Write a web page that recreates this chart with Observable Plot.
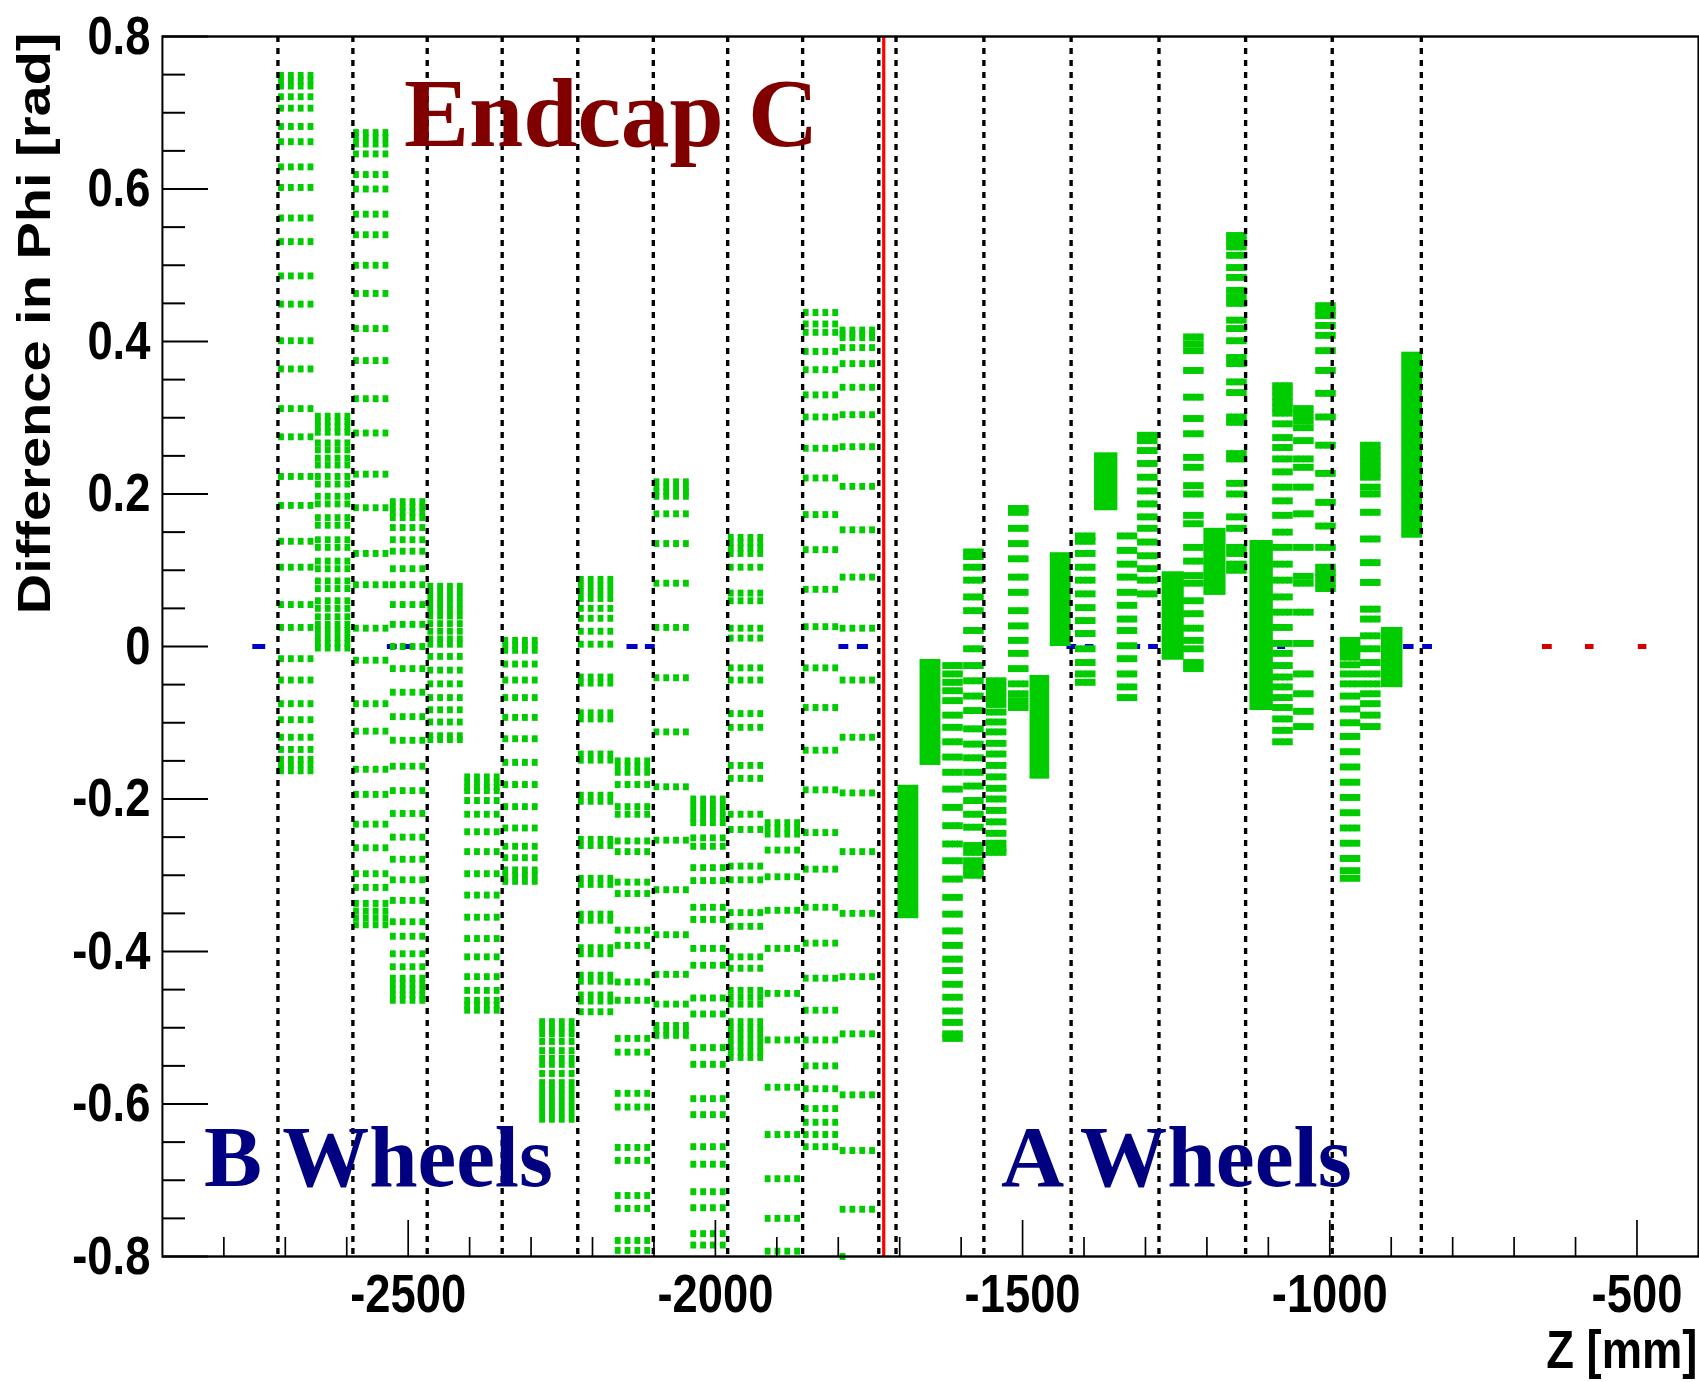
<!DOCTYPE html>
<html>
<head>
<meta charset="utf-8">
<script src="https://cdn.jsdelivr.net/npm/d3@7"></script>
<script src="https://cdn.jsdelivr.net/npm/@observablehq/plot@0.6"></script>
<style>
html, body { margin: 0; padding: 0; background: #fff; }
#wrap { position: relative; width: 1699px; height: 1382px; overflow: hidden; background: #fff; }
#wrap svg.overlay { position: absolute; left: 0; top: 0; pointer-events: none; }
</style>
</head>
<body>
<div id="wrap"></div>
<script>
// ---------------- data ----------------
const zDomain = [-2900, -400];
const phiDomain = [-0.8, 0.8];
const xMajorTicks = [-2500, -2000, -1500, -1000, -500];
const xMinorTicks = [-2800, -2700, -2600, -2400, -2300, -2200, -2100, -1900, -1800, -1700, -1600, -1400, -1300, -1200, -1100, -900, -800, -700, -600];
const yMajorTicks = [-0.8, -0.6, -0.4, -0.2, 0, 0.2, 0.4, 0.6, 0.8];
const yMinorTicks = [-0.75, -0.7, -0.65, -0.55, -0.5, -0.45, -0.35, -0.3, -0.25, -0.15, -0.1, -0.05, 0.05, 0.1, 0.15, 0.25, 0.3, 0.35, 0.45, 0.5, 0.55, 0.65, 0.7, 0.75];

const wheelBoundaries = [-2712, -2590, -2469, -2347, -2224, -2101, -1980, -1858, -1734, -1706, -1563, -1421, -1278, -1137, -996, -851];
const endcapBoundaryZ = [-1726];

const blueSegZ1 = [-2753, -2534, -2505, -2144, -2114, -1799, -1769, -1428, -1398, -1324, -1295, -1116, -1085, -880, -849];
const blueSegZ2 = [-2732, -2518, -2488, -2126, -2098, -1783, -1751, -1412, -1384, -1308, -1279, -1101, -1072, -863, -833];
const redSegZ1 = [-654, -584, -498];
const redSegZ2 = [-638, -570, -484];

// B wheels: 16 clusters, 4 straw columns each
const bColumnOffsets = [0, 16, 32, 48];
const bClusterZ = [-2707, -2647, -2585, -2525, -2464, -2404, -2342, -2282, -2219, -2159, -2096, -2036, -1975, -1915, -1853, -1793];
const rowsB01 = [0.749, 0.742, 0.735, 0.721, 0.706, 0.682, 0.662, 0.629, 0.602, 0.562, 0.531, 0.486, 0.449, 0.401, 0.364, 0.312, 0.275, 0.223, 0.185, 0.138, 0.104, 0.055, 0.025, -0.016, -0.044, -0.075, -0.096, -0.119, -0.135, -0.148, -0.155, -0.163];
const rowsB02 = [0.302, 0.295, 0.288, 0.281, 0.267, 0.258, 0.247, 0.238, 0.223, 0.213, 0.197, 0.187, 0.169, 0.159, 0.140, 0.130, 0.112, 0.102, 0.086, 0.076, 0.060, 0.050, 0.039, 0.029, 0.021, 0.012, 0.004, -0.002];
const rowsB03 = [0.674, 0.667, 0.659, 0.646, 0.619, 0.600, 0.567, 0.540, 0.500, 0.463, 0.417, 0.375, 0.325, 0.280, 0.226, 0.182, 0.122, 0.081, 0.024, -0.018, -0.075, -0.111, -0.161, -0.194, -0.233, -0.264, -0.298, -0.316, -0.337, -0.347, -0.356, -0.365];
const rowsB04 = [0.190, 0.183, 0.176, 0.169, 0.156, 0.140, 0.125, 0.102, 0.081, 0.055, 0.029, 0.000, -0.029, -0.060, -0.092, -0.123, -0.157, -0.189, -0.219, -0.250, -0.279, -0.306, -0.333, -0.361, -0.380, -0.403, -0.420, -0.435, -0.442, -0.450, -0.457, -0.464];
const rowsB05 = [0.079, 0.072, 0.064, 0.056, 0.048, 0.040, 0.030, 0.020, 0.010, 0.003, -0.013, -0.031, -0.049, -0.067, -0.083, -0.099, -0.117, -0.122];
const rowsB06 = [-0.171, -0.178, -0.185, -0.189, -0.202, -0.220, -0.243, -0.269, -0.298, -0.326, -0.355, -0.383, -0.407, -0.433, -0.451, -0.464, -0.471, -0.477];
const rowsB07 = [0.008, 0.002, -0.005, -0.023, -0.044, -0.067, -0.093, -0.121, -0.152, -0.181, -0.210, -0.238, -0.262, -0.277, -0.293, -0.300, -0.308];
const rowsB08 = [-0.492, -0.500, -0.508, -0.518, -0.530, -0.540, -0.548, -0.560, -0.572, -0.580, -0.588, -0.596, -0.604, -0.612, -0.620];
const rowsB09 = [0.088, 0.080, 0.072, 0.063, 0.050, 0.037, 0.020, 0.003, -0.040, -0.048, -0.087, -0.095, -0.141, -0.149, -0.195, -0.203, -0.253, -0.261, -0.304, -0.312, -0.351, -0.359, -0.395, -0.403, -0.431, -0.439, -0.457, -0.465, -0.479];
const rowsB10 = [-0.150, -0.157, -0.165, -0.181, -0.210, -0.220, -0.255, -0.269, -0.309, -0.324, -0.372, -0.392, -0.440, -0.464, -0.514, -0.532, -0.586, -0.604, -0.657, -0.674, -0.720, -0.737, -0.779, -0.792];
const rowsB11 = [0.216, 0.209, 0.203, 0.197, 0.174, 0.135, 0.083, 0.025, -0.041, -0.112, -0.184, -0.254, -0.319, -0.378, -0.430, -0.469, -0.497, -0.504, -0.510];
const rowsB12 = [-0.200, -0.208, -0.216, -0.224, -0.231, -0.251, -0.262, -0.290, -0.307, -0.342, -0.358, -0.396, -0.418, -0.461, -0.482, -0.526, -0.548, -0.593, -0.614, -0.656, -0.679, -0.715, -0.736, -0.770, -0.785];
const rowsB13 = [0.143, 0.136, 0.129, 0.122, 0.104, 0.070, 0.060, 0.024, 0.011, -0.028, -0.044, -0.088, -0.106, -0.156, -0.173, -0.220, -0.240, -0.288, -0.306, -0.349, -0.367, -0.407, -0.422, -0.451, -0.460, -0.469, -0.492, -0.500, -0.508, -0.516, -0.524, -0.532, -0.539];
const rowsB14 = [-0.231, -0.238, -0.246, -0.267, -0.302, -0.346, -0.396, -0.455, -0.516, -0.578, -0.640, -0.698, -0.750, -0.793];
const rowsB15 = [0.438, 0.423, 0.412, 0.387, 0.363, 0.330, 0.301, 0.260, 0.221, 0.173, 0.127, 0.075, 0.026, -0.028, -0.080, -0.136, -0.188, -0.244, -0.292, -0.342, -0.389, -0.435, -0.477, -0.516, -0.550, -0.580, -0.606, -0.624, -0.640, -0.656];
const rowsB16 = [0.415, 0.410, 0.405, 0.392, 0.371, 0.340, 0.304, 0.262, 0.210, 0.153, 0.091, 0.024, -0.044, -0.119, -0.192, -0.269, -0.350, -0.433, -0.508, -0.588, -0.661, -0.738];
const bClusterRows = [rowsB01, rowsB02, rowsB03, rowsB04, rowsB05, rowsB06, rowsB07, rowsB08, rowsB09, rowsB10, rowsB11, rowsB12, rowsB13, rowsB14, rowsB15, rowsB16];

// A wheels: clusters drawn as rows of 4 close straw columns
const aColumnOffsets = [0, 8, 16, 24];
const aClusterZ = [-1626, -1592, -1555, -1519, -1410, -1342, -1309, -1234, -1164, -1089, -1055, -1019, -979, -946];
const rowsA1c = [-0.025, -0.036, -0.047, -0.058, -0.071, -0.090, -0.106, -0.125, -0.145, -0.165, -0.187, -0.211, -0.235, -0.259, -0.281, -0.305, -0.329, -0.351, -0.373, -0.392, -0.410, -0.425, -0.443, -0.460, -0.478, -0.493, -0.508, -0.514];
const rowsA1d = [0.124, 0.118, 0.104, 0.087, 0.065, 0.047, 0.021, -0.003, -0.025, -0.045, -0.065, -0.084, -0.108, -0.128, -0.146, -0.165, -0.183, -0.202, -0.220, -0.237, -0.261, -0.270, -0.281, -0.288, -0.294, -0.300];
const rowsA2a = [-0.045, -0.052, -0.060, -0.068, -0.076, -0.086, -0.099, -0.112, -0.127, -0.141, -0.156, -0.171, -0.186, -0.200, -0.215, -0.230, -0.245, -0.258, -0.265, -0.270];
const rowsA2b = [0.181, 0.176, 0.155, 0.135, 0.115, 0.091, 0.071, 0.047, 0.027, 0.008, -0.009, -0.029, -0.049, -0.062, -0.071, -0.080];
const rowsA3a = [0.145, 0.138, 0.122, 0.104, 0.087, 0.069, 0.051, 0.034, 0.017, -0.003, -0.021, -0.036, -0.047];
const rowsA3c = [0.145, 0.126, 0.108, 0.091, 0.071, 0.054, 0.036, 0.021, 0.001, -0.016, -0.036, -0.053, -0.067];
const rowsA3d = [0.277, 0.270, 0.257, 0.240, 0.222, 0.204, 0.187, 0.170, 0.155, 0.137, 0.119, 0.102, 0.087, 0.069];
const rowsA4b = [0.406, 0.397, 0.388, 0.362, 0.327, 0.299, 0.279, 0.248, 0.235, 0.211, 0.200, 0.172, 0.161, 0.130, 0.112, 0.093, 0.083, 0.060, 0.043, 0.024, 0.008, -0.003, -0.021, -0.029];
const rowsA4d = [0.539, 0.532, 0.524, 0.513, 0.497, 0.484, 0.467, 0.458, 0.450, 0.428, 0.417, 0.401, 0.379, 0.371, 0.347, 0.333, 0.301, 0.294, 0.253, 0.246, 0.214, 0.200, 0.170, 0.155, 0.130, 0.122, 0.108, 0.100];
const rowsA5b = [0.342, 0.335, 0.328, 0.320, 0.313, 0.306, 0.292, 0.274, 0.261, 0.246, 0.229, 0.209, 0.191, 0.172, 0.150, 0.130, 0.108, 0.087, 0.065, 0.045, 0.025, 0.004, -0.009, -0.025, -0.040, -0.053, -0.067, -0.080, -0.095, -0.110, -0.125];
const rowsA5c = [0.312, 0.304, 0.296, 0.287, 0.270, 0.246, 0.235, 0.209, 0.174, 0.130, 0.092, 0.083, 0.045, 0.004, -0.036, -0.062, -0.085, -0.105];
const rowsA5d = [0.447, 0.440, 0.434, 0.421, 0.408, 0.388, 0.362, 0.332, 0.301, 0.264, 0.227, 0.189, 0.158, 0.130, 0.104, 0.097, 0.090, 0.083, 0.076];
const rowsA6a = [0.008, 0.002, -0.006, -0.014, -0.024, -0.036, -0.049, -0.065, -0.082, -0.100, -0.118, -0.138, -0.158, -0.178, -0.198, -0.218, -0.238, -0.258, -0.278, -0.294, -0.304];
const rowsA6b = [0.264, 0.257, 0.250, 0.243, 0.236, 0.229, 0.222, 0.209, 0.200, 0.176, 0.141, 0.110, 0.084, 0.049, 0.036, 0.014, -0.003, -0.021, -0.036, -0.049, -0.062, -0.075, -0.090, -0.105];
const aClusterRows = [rowsA1c, rowsA1d, rowsA2a, rowsA2b, rowsA3a, rowsA3c, rowsA3d, rowsA4b, rowsA4d, rowsA5b, rowsA5c, rowsA5d, rowsA6a, rowsA6b];

// saturated A clusters (hits so dense they form solid blocks)
const blockZ1 = [-1703, -1667, -1488, -1455, -1383, -1273, -1205, -1130, -916, -883];
const blockZ2 = [-1669, -1633, -1456, -1421, -1345, -1237, -1169, -1092, -881, -849];
const blockLo = [-0.357, -0.156, -0.174, 0.000, 0.178, -0.018, 0.067, -0.084, -0.054, 0.142];
const blockHi = [-0.182, -0.017, -0.038, 0.123, 0.254, 0.098, 0.155, 0.139, 0.025, 0.386];

const strayZ = [-1793];
const strayPhi = [-0.800];

// ---------------- build tables ----------------
const points = [];
bClusterZ.forEach((z0, i) => bClusterRows[i].forEach(phi => bColumnOffsets.forEach(dz => points.push({z: z0 + dz, phi}))));
aClusterZ.forEach((z0, i) => aClusterRows[i].forEach(phi => aColumnOffsets.forEach(dz => points.push({z: z0 + dz, phi}))));
strayZ.forEach((z, i) => points.push({z, phi: strayPhi[i]}));
const blocks = blockZ1.map((z1, i) => ({z1, z2: blockZ2[i], lo: blockLo[i], hi: blockHi[i]}));
const blueSegments = blueSegZ1.map((z1, i) => ({z1, z2: blueSegZ2[i]}));
const redSegments = redSegZ1.map((z1, i) => ({z1, z2: redSegZ2[i]}));

// ---------------- layout ----------------
const OUT_W = 1699, OUT_H = 1382;
const W = 2023;                 // drawing width, squeezed horizontally to OUT_W
const K = OUT_W / W;
const px = v => v / K;
const mL = px(162), mR = px(1), mT = 36, mB = 126;
const plotW = W - mL - mR, plotH = OUT_H - mT - mB;
const GREEN = "#00cc00";
const SANS = "'Liberation Sans', Arial, Helvetica, sans-serif";

const chart = Plot.plot({
  width: W, height: OUT_H,
  marginTop: mT, marginBottom: mB, marginLeft: mL, marginRight: mR,
  x: {domain: zDomain, label: null},
  y: {domain: phiDomain, label: null},
  style: {fontFamily: SANS, fontWeight: "bold", fontSize: "54px", color: "#000", background: "#fff", overflow: "visible"},
  marks: [
    Plot.ruleY(blueSegments, {y: () => 0, x1: "z1", x2: "z2", stroke: "#0000c8", strokeWidth: 5}),
    Plot.ruleY(redSegments, {y: () => 0, x1: "z1", x2: "z2", stroke: "#d40000", strokeWidth: 5}),
    Plot.rect(blocks, {x1: "z1", x2: "z2", y1: "lo", y2: "hi", fill: GREEN}),
    Plot.dot(points, {x: "z", y: "phi", symbol: "square", r: 3.9, fill: GREEN}),
    Plot.ruleX(wheelBoundaries, {stroke: "#000", strokeWidth: 4, strokeDasharray: "6,6"}),
    Plot.ruleX(endcapBoundaryZ, {stroke: "#ff0000", strokeWidth: 3.8}),
    Plot.tickY(yMinorTicks, {y: d => d, stroke: "#000", strokeWidth: 2, insetRight: plotW - px(23)}),
    Plot.tickY(yMajorTicks, {y: d => d, stroke: "#000", strokeWidth: 2, insetRight: plotW - px(46)}),
    Plot.tickX(xMinorTicks, {x: d => d, stroke: "#000", strokeWidth: 2, insetTop: plotH - 19}),
    Plot.tickX(xMajorTicks, {x: d => d, stroke: "#000", strokeWidth: 2, insetTop: plotH - 36}),
    Plot.frame({stroke: "#000", strokeWidth: 2.4}),
    Plot.axisY({ticks: yMajorTicks, tickSize: 0, tickPadding: px(12), label: null, fontSize: 54,
      tickFormat: d => d === 0 ? "0" : d.toFixed(1)}),
    Plot.axisX({ticks: xMajorTicks, tickSize: 0, tickPadding: 17, label: null, fontSize: 54,
      tickFormat: d => String(d)}),
    Plot.text(["Difference in Phi [rad]"], {frameAnchor: "top-left", text: d => d, rotate: -90,
      textAnchor: "end", lineAnchor: "bottom", fontSize: 56, dx: px(50) - mL, dy: 32 - mT}),
    Plot.text(["Z [mm]"], {frameAnchor: "bottom-right", text: d => d, textAnchor: "end",
      lineAnchor: "bottom", fontSize: 54, dx: -px(1), dy: 1367 - (OUT_H - mB)})
  ]
});

chart.setAttribute("width", OUT_W);
chart.setAttribute("height", OUT_H);
chart.setAttribute("preserveAspectRatio", "none");
chart.style.width = OUT_W + "px";
chart.style.height = OUT_H + "px";
chart.style.maxWidth = "none";
chart.style.display = "block";

const wrap = document.getElementById("wrap");
wrap.appendChild(chart);

// annotation overlay (slide text, not squeezed)
const labelText = ["Endcap C", "B Wheels", "A Wheels"];
const labelLayout = [
  {x: 404, y: 146, size: 97.5, color: "#800000"},
  {x: 204, y: 1186, size: 87, color: "#000080"},
  {x: 1001, y: 1186, size: 87.5, color: "#000080"}
];
const ov = d3.create("svg").attr("class", "overlay").attr("width", OUT_W).attr("height", OUT_H);
ov.selectAll("text").data(labelText).join("text")
  .attr("x", (d, i) => labelLayout[i].x)
  .attr("y", (d, i) => labelLayout[i].y)
  .attr("font-family", "'Liberation Serif', 'Times New Roman', Times, serif")
  .attr("font-weight", "bold")
  .attr("font-size", (d, i) => labelLayout[i].size)
  .attr("fill", (d, i) => labelLayout[i].color)
  .text(d => d);
wrap.appendChild(ov.node());
</script>
</body>
</html>
